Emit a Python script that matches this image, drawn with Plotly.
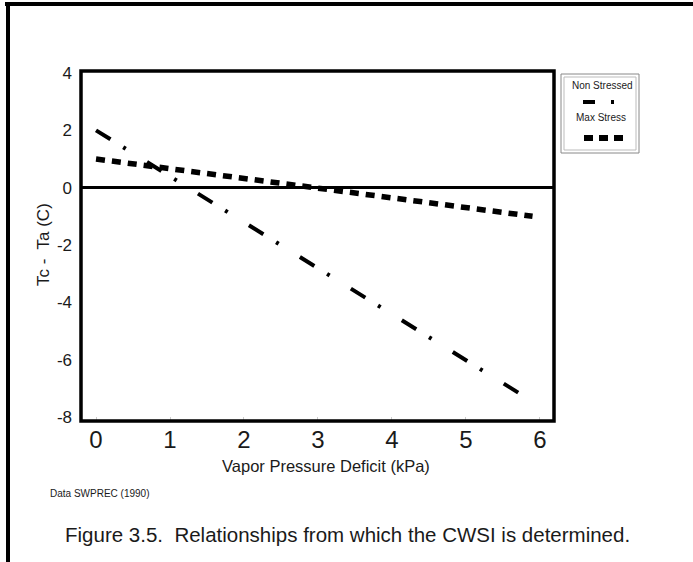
import plotly.graph_objects as go

# Data
ns_vpd = [0.0, 5.8]
ns_dt = [2.0, -7.3]
ms_vpd = [0.0, 5.9]
ms_dt = [1.0, -1.0]
x_ticks = [0, 1, 2, 3, 4, 5, 6]
y_ticks = [4, 2, 0, -2, -4, -6, -8]

W, H = 693, 562
L, R, T, B = 81, 554, 71, 421
PW, PH = R - L, B - T


def px(x):
    return (x - L) / PW


def py(y):
    return (B - y) / PH


FONT = "Liberation Sans, Arial, sans-serif"
INK = "#1a1a1a"

fig = go.Figure()
fig.add_trace(go.Scatter(
    x=ns_vpd, y=ns_dt, mode="lines", name="Non Stressed",
    line=dict(color="black", width=4, dash="17px,15px,3px,25px"),
))
fig.add_trace(go.Scatter(
    x=ms_vpd, y=ms_dt, mode="lines", name="Max Stress",
    line=dict(color="black", width=5.5, dash="9px,7px"),
))

shapes = []
# plot frame
shapes.append(dict(type="rect", xref="paper", yref="paper", x0=0, x1=1, y0=0, y1=1,
                   line=dict(color="black", width=3.5)))
# outer page border (top & left)
shapes.append(dict(type="line", xref="paper", yref="paper", x0=px(5), x1=px(693),
                   y0=py(4), y1=py(4), line=dict(color="black", width=4)))
shapes.append(dict(type="line", xref="paper", yref="paper", x0=px(8), x1=px(8),
                   y0=py(2), y1=py(562), line=dict(color="black", width=4)))
# legend box (double border)
shapes.append(dict(type="rect", xref="paper", yref="paper", x0=px(561), x1=px(639),
                   y0=py(153), y1=py(74), line=dict(color="#888", width=1)))
shapes.append(dict(type="rect", xref="paper", yref="paper", x0=px(564), x1=px(636),
                   y0=py(150), y1=py(77), line=dict(color="#bbb", width=1)))
# legend samples
shapes.append(dict(type="line", xref="paper", yref="paper", x0=px(583), x1=px(616),
                   y0=py(102), y1=py(102),
                   line=dict(color="black", width=4, dash="12px,16px,3px,20px")))
shapes.append(dict(type="line", xref="paper", yref="paper", x0=px(584), x1=px(623),
                   y0=py(138), y1=py(138),
                   line=dict(color="black", width=6, dash="9px,6px")))

annotations = [
    dict(text="Non Stressed", x=px(602), y=py(86), xref="paper", yref="paper",
         xanchor="center", yanchor="middle",
         showarrow=False, font=dict(size=10, family=FONT, color=INK)),
    dict(text="Max Stress", x=px(601), y=py(118), xref="paper", yref="paper",
         xanchor="center", yanchor="middle",
         showarrow=False, font=dict(size=10, family=FONT, color=INK)),
    dict(text="Tc -  Ta (C)", x=px(43), y=py(245), xref="paper", yref="paper",
         xanchor="center", yanchor="middle",
         showarrow=False, textangle=-90, font=dict(size=17, family=FONT, color=INK)),
    dict(text="Vapor Pressure Deficit (kPa)", x=px(326), y=py(466), xref="paper",
         yref="paper", xanchor="center", yanchor="middle",
         showarrow=False, font=dict(size=16.5, family=FONT, color=INK)),
    dict(text="Data SWPREC (1990)", x=px(48), y=py(493), xref="paper", yref="paper",
         xanchor="left", yanchor="middle",
         showarrow=False, font=dict(size=10, family=FONT, color=INK)),
    dict(text="Figure 3.5.  Relationships from which the CWSI is determined.",
         x=px(63), y=py(534), xref="paper", yref="paper", xanchor="left", yanchor="middle",
         showarrow=False, font=dict(size=20.5, family=FONT, color=INK)),
]

fig.update_layout(
    width=W, height=H,
    margin=dict(l=L, r=W - R, t=T, b=H - B, pad=0),
    paper_bgcolor="white", plot_bgcolor="white",
    showlegend=False,
    shapes=shapes, annotations=annotations,
    xaxis=dict(range=[-0.203, 6.19], tickvals=x_ticks, ticktext=[str(v) for v in x_ticks],
               showgrid=False, zeroline=False, showline=False,
               ticks="inside", ticklen=4, tickcolor="#ccc", ticklabelstandoff=2,
               tickfont=dict(size=24, family=FONT, color=INK)),
    yaxis=dict(range=[-8.14, 4.07], tickvals=y_ticks, ticktext=[str(v) for v in y_ticks],
               showgrid=False, zeroline=True, zerolinecolor="black", zerolinewidth=3,
               showline=False, ticks="", ticklabelstandoff=8,
               tickfont=dict(size=17, family=FONT, color=INK)),
)

fig.write_html("out.html", config={"displayModeBar": False},
               post_script="document.body.style.margin='0';document.body.style.overflow='hidden';")
